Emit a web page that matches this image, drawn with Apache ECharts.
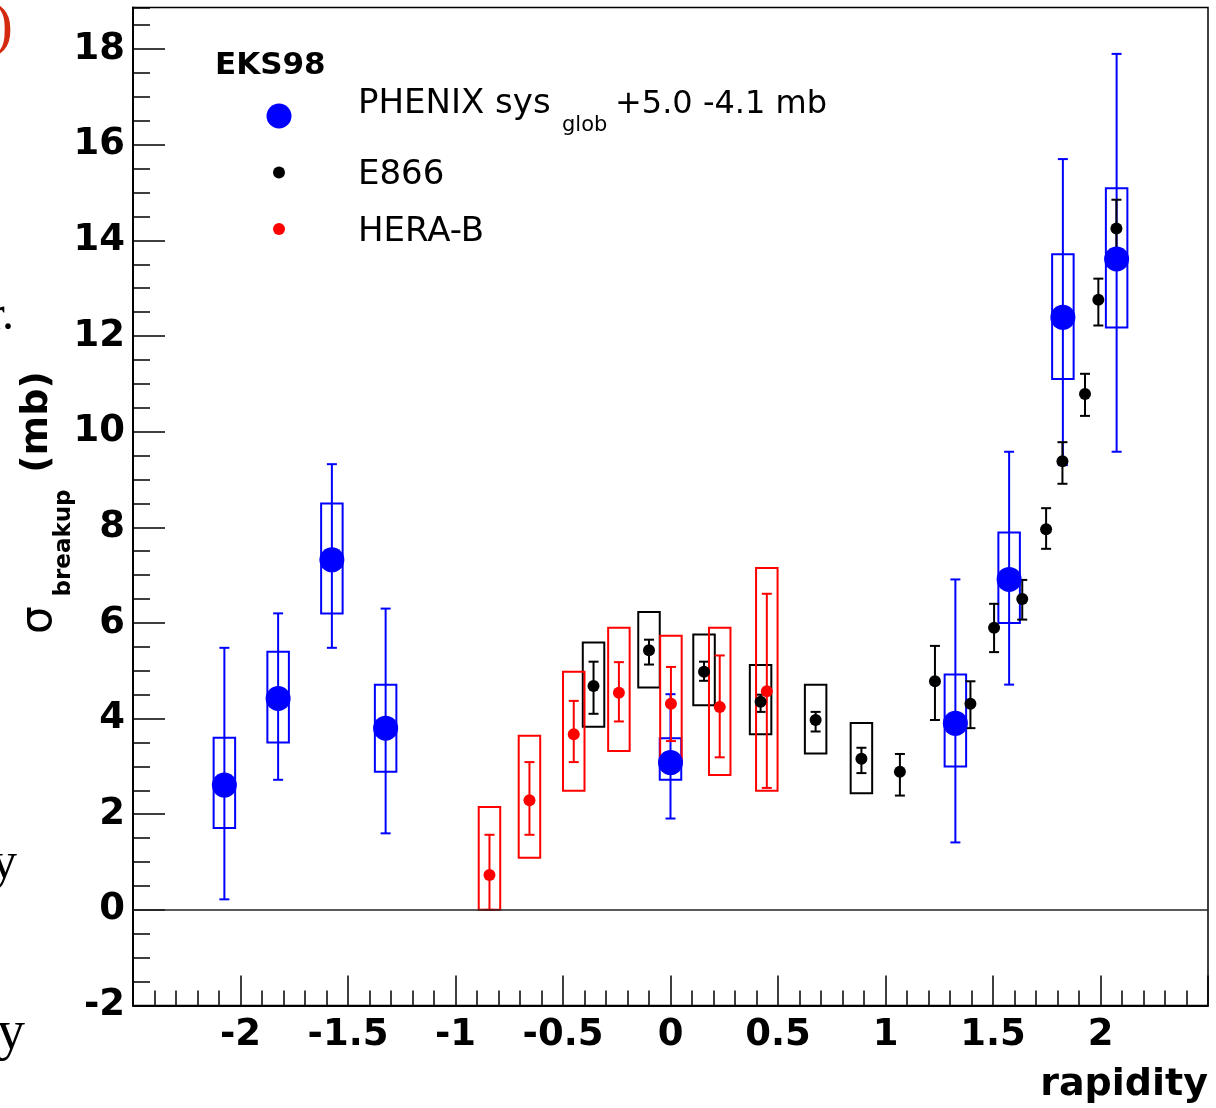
<!DOCTYPE html>
<html>
<head>
<meta charset="utf-8">
<script src="https://cdn.jsdelivr.net/npm/echarts/dist/echarts.min.js"></script>
<style>
html,body{margin:0;padding:0;background:#fff;}
#chart{width:1216px;height:1108px;}
</style>
</head>
<body>
<div id="chart"></div>
<script>
// ---------------- DATA ----------------
// PHENIX (blue): rapidity, value, stat low/high, sys low/high (mb)
const phenixX      = [-2.075, -1.825, -1.575, -1.325, 0.0, 1.325, 1.575, 1.825, 2.075];
const phenixVal    = [2.61, 4.42, 7.32, 3.80, 3.08, 3.90, 6.91, 12.39, 13.61];
const phenixStatLo = [0.22, 2.72, 5.48, 1.60, 1.91, 1.41, 4.71, 9.30, 9.58];
const phenixStatHi = [5.48, 6.20, 9.32, 6.30, 4.51, 6.91, 9.58, 15.70, 17.90];
const phenixSysLo  = [1.71, 3.50, 6.20, 2.89, 2.72, 3.00, 6.00, 11.10, 12.18];
const phenixSysHi  = [3.60, 5.40, 8.50, 4.71, 3.59, 4.92, 7.89, 13.71, 15.09];

// E866 (black)
const e866X      = [-0.358, -0.100, 0.156, 0.419, 0.675, 0.888, 1.067, 1.230, 1.395, 1.505, 1.636, 1.747, 1.823, 1.928, 1.990, 2.074];
const e866Val    = [4.68, 5.43, 4.98, 4.35, 3.97, 3.16, 2.89, 4.78, 4.31, 5.90, 6.50, 7.96, 9.38, 10.79, 12.76, 14.25];
const e866StatLo = [4.10, 5.13, 4.79, 4.14, 3.73, 2.86, 2.39, 3.97, 3.80, 5.39, 6.07, 7.55, 8.91, 10.33, 12.22, 13.57];
const e866StatHi = [5.19, 5.65, 5.19, 4.50, 4.14, 3.39, 3.26, 5.52, 4.78, 6.40, 6.90, 8.40, 9.78, 11.21, 13.20, 14.85];
const e866SysLo  = [3.83, 4.65, 4.28, 3.67, 3.27, 2.44, null, null, null, null, null, null, null, null, null, null];
const e866SysHi  = [5.59, 6.23, 5.76, 5.12, 4.71, 3.91, null, null, null, null, null, null, null, null, null, null];

// HERA-B (red)
const heraX      = [-0.842, -0.656, -0.450, -0.240, 0.002, 0.229, 0.448];
const heraVal    = [0.73, 2.29, 3.67, 4.54, 4.31, 4.24, 4.57];
const heraStatLo = [0.00, 1.57, 3.09, 3.94, 3.53, 3.19, 2.55];
const heraStatHi = [1.57, 3.09, 4.37, 5.18, 5.08, 5.32, 6.61];
const heraSysLo  = [0.00, 1.09, 2.49, 3.32, 3.06, 2.82, 2.49];
const heraSysHi  = [2.15, 3.64, 4.98, 5.90, 5.73, 5.90, 7.15];

// axis ranges
const xMin = -2.5, xMax = 2.5, xStep = 0.5;
const yMin = -2, yMax = 18.87, yStep = 2, yMinorStep = 0.5;

// ---------------- STYLE ----------------
const BLUE = '#0000ff', BLACK = '#000000', RED = '#ff0000';
const BOX_HALF = 0.05;   // half width of systematic boxes (rapidity units)
const CAP = 5;           // half width of error-bar caps (px)
const LABEL_FONT = 'DejaVu Sans';

function zip3(xs, lo, hi) {
  const out = [];
  for (let i = 0; i < xs.length; i++) {
    if (lo[i] == null || hi[i] == null) continue;
    out.push([xs[i], lo[i], hi[i]]);
  }
  return out;
}
function zip2(xs, ys) { return xs.map((x, i) => [x, ys[i]]); }

function boxRender(color) {
  return function (params, api) {
    const x = api.value(0), lo = api.value(1), hi = api.value(2);
    const p1 = api.coord([x - BOX_HALF, hi]);
    const p2 = api.coord([x + BOX_HALF, lo]);
    return {
      type: 'rect',
      shape: { x: p1[0], y: p1[1], width: p2[0] - p1[0], height: p2[1] - p1[1] },
      style: { fill: 'none', stroke: color, lineWidth: 2 }
    };
  };
}
function errRender(color) {
  return function (params, api) {
    const x = api.value(0), lo = api.value(1), hi = api.value(2);
    const a = api.coord([x, hi]), b = api.coord([x, lo]);
    const st = { stroke: color, lineWidth: 2 };
    return {
      type: 'group',
      children: [
        { type: 'line', shape: { x1: a[0], y1: a[1], x2: b[0], y2: b[1] }, style: st },
        { type: 'line', shape: { x1: a[0] - CAP, y1: a[1], x2: a[0] + CAP, y2: a[1] }, style: st },
        { type: 'line', shape: { x1: b[0] - CAP, y1: b[1], x2: b[0] + CAP, y2: b[1] }, style: st }
      ]
    };
  };
}
function boxSeries(name, color, data, extra) {
  return Object.assign({
    name: name, type: 'custom', renderItem: boxRender(color), data: data,
    encode: { x: 0, y: [1, 2] }, silent: true
  }, extra || {});
}
function errSeries(name, color, data) {
  return {
    name: name, type: 'custom', renderItem: errRender(color), data: data,
    encode: { x: 0, y: [1, 2] }, silent: true
  };
}
function ptSeries(name, color, size, data) {
  return {
    name: name, type: 'scatter', data: data, symbol: 'circle', symbolSize: size,
    itemStyle: { color: color, opacity: 1 }, silent: true
  };
}

const chart = echarts.init(document.getElementById('chart'), null, { renderer: 'canvas' });

const option = {
  animation: false,
  backgroundColor: '#ffffff',
  grid: {
    left: 133, right: 8, top: 7.5, bottom: 102.5,
    show: true, borderColor: '#000', borderWidth: 1.5, backgroundColor: 'transparent'
  },
  xAxis: {
    type: 'value', min: xMin, max: xMax, interval: xStep,
    axisLine: { show: true, onZero: false, lineStyle: { color: '#000', width: 2 } },
    axisTick: { show: true, inside: true, length: 30, lineStyle: { color: '#000', width: 1.5 } },
    minorTick: { show: true, splitNumber: 5, length: 15, lineStyle: { color: '#000', width: 1.5 } },
    splitLine: { show: false },
    axisLabel: {
      show: true, showMinLabel: false, showMaxLabel: false, margin: 11,
      color: '#000', fontFamily: LABEL_FONT, fontWeight: 'bold', fontSize: 37,
      formatter: v => String(Math.round(v * 10) / 10)
    }
  },
  yAxis: [
    {
      type: 'value', min: yMin, max: yMax, interval: yStep, position: 'left',
      axisLine: { show: true, onZero: false, lineStyle: { color: '#000', width: 2 } },
      axisTick: { show: true, inside: true, length: 32, lineStyle: { color: '#000', width: 1.5 } },
      splitLine: { show: false },
      axisLabel: {
        show: true, showMaxLabel: false, margin: 8,
        color: '#000', fontFamily: LABEL_FONT, fontWeight: 'bold', fontSize: 37,
        formatter: v => (Math.abs(v - Math.round(v)) < 1e-6 ? String(Math.round(v)) : '')
      }
    },
    {
      type: 'value', min: yMin, max: yMax, interval: yMinorStep, position: 'left', offset: 0,
      axisLine: { show: false, onZero: false },
      axisTick: { show: true, inside: true, length: 17, lineStyle: { color: '#000', width: 1.5 } },
      axisLabel: { show: false },
      splitLine: { show: false }
    }
  ],
  series: [
    boxSeries('PHENIX sys', BLUE, zip3(phenixX, phenixSysLo, phenixSysHi), {
      markLine: {
        silent: true, symbol: ['none', 'none'], label: { show: false },
        lineStyle: { color: '#222', width: 1.5, type: 'solid' },
        data: [{ yAxis: 0 }]
      }
    }),
    errSeries('PHENIX stat', BLUE, zip3(phenixX, phenixStatLo, phenixStatHi)),
    ptSeries('PHENIX', BLUE, 25, zip2(phenixX, phenixVal)),
    boxSeries('E866 sys', BLACK, zip3(e866X, e866SysLo, e866SysHi)),
    errSeries('E866 stat', BLACK, zip3(e866X, e866StatLo, e866StatHi)),
    ptSeries('E866', BLACK, 12, zip2(e866X, e866Val)),
    boxSeries('HERA-B sys', RED, zip3(heraX, heraSysLo, heraSysHi)),
    errSeries('HERA-B stat', RED, zip3(heraX, heraStatLo, heraStatHi)),
    ptSeries('HERA-B', RED, 12, zip2(heraX, heraVal))
  ],
  graphic: [
    // legend
    { type: 'text', x: 215, y: 65.5, style: { text: 'EKS98', fill: '#000', font: 'bold 31px "DejaVu Sans"', align: 'left', verticalAlign: 'middle' } },
    { type: 'circle', shape: { cx: 279, cy: 116, r: 12.5 }, style: { fill: BLUE } },
    { type: 'text', x: 358, y: 104.5, style: { text: 'PHENIX sys', fill: '#000', font: '34px "DejaVu Sans"', align: 'left', verticalAlign: 'middle' } },
    { type: 'text', x: 562, y: 126, style: { text: 'glob', fill: '#000', font: '21px "DejaVu Sans"', align: 'left', verticalAlign: 'middle' } },
    { type: 'text', x: 615, y: 104.5, style: { text: '+5.0 -4.1 mb', fill: '#000', font: '32px "DejaVu Sans"', align: 'left', verticalAlign: 'middle' } },
    { type: 'circle', shape: { cx: 279, cy: 172.5, r: 6 }, style: { fill: BLACK } },
    { type: 'text', x: 358, y: 175, style: { text: 'E866', fill: '#000', font: '34px "DejaVu Sans"', align: 'left', verticalAlign: 'middle' } },
    { type: 'circle', shape: { cx: 279, cy: 229, r: 6 }, style: { fill: RED } },
    { type: 'text', x: 358, y: 232, style: { text: 'HERA-B', fill: '#000', font: '34px "DejaVu Sans"', align: 'left', verticalAlign: 'middle' } },
    // x axis title
    { type: 'text', x: 1208, y: 1104, style: { text: 'rapidity', fill: '#000', font: 'bold 38px "DejaVu Sans"', align: 'right', verticalAlign: 'bottom' } },
    // y axis title (rotated)
    { type: 'text', x: 40, y: 620, rotation: Math.PI / 2, style: { text: 'σ', fill: '#000', font: '44px "DejaVu Sans"', align: 'center', verticalAlign: 'middle' } },
    { type: 'text', x: 64, y: 543, rotation: Math.PI / 2, style: { text: 'breakup', fill: '#000', font: 'bold 23px "DejaVu Sans"', align: 'center', verticalAlign: 'middle' } },
    { type: 'text', x: 37, y: 422, rotation: Math.PI / 2, style: { text: '(mb)', fill: '#000', font: 'bold 38px "DejaVu Sans"', align: 'center', verticalAlign: 'middle' } },
    // fragments of surrounding page text, cut at the left edge
    { type: 'text', x: 13, y: 58, style: { text: ')', fill: '#d42a10', font: '60px "Liberation Serif"', align: 'right', verticalAlign: 'bottom' } },
    { type: 'text', x: 14, y: 340, style: { text: 'r.', fill: '#000', font: '48px "Liberation Serif"', align: 'right', verticalAlign: 'bottom' } },
    { type: 'text', x: 17, y: 890, style: { text: 'y', fill: '#000', font: '52px "Liberation Serif"', align: 'right', verticalAlign: 'bottom' } },
    { type: 'text', x: 25, y: 1062, style: { text: 'y', fill: '#000', font: '56px "Liberation Serif"', align: 'right', verticalAlign: 'bottom' } }
  ]
};

chart.setOption(option);
</script>
</body>
</html>
